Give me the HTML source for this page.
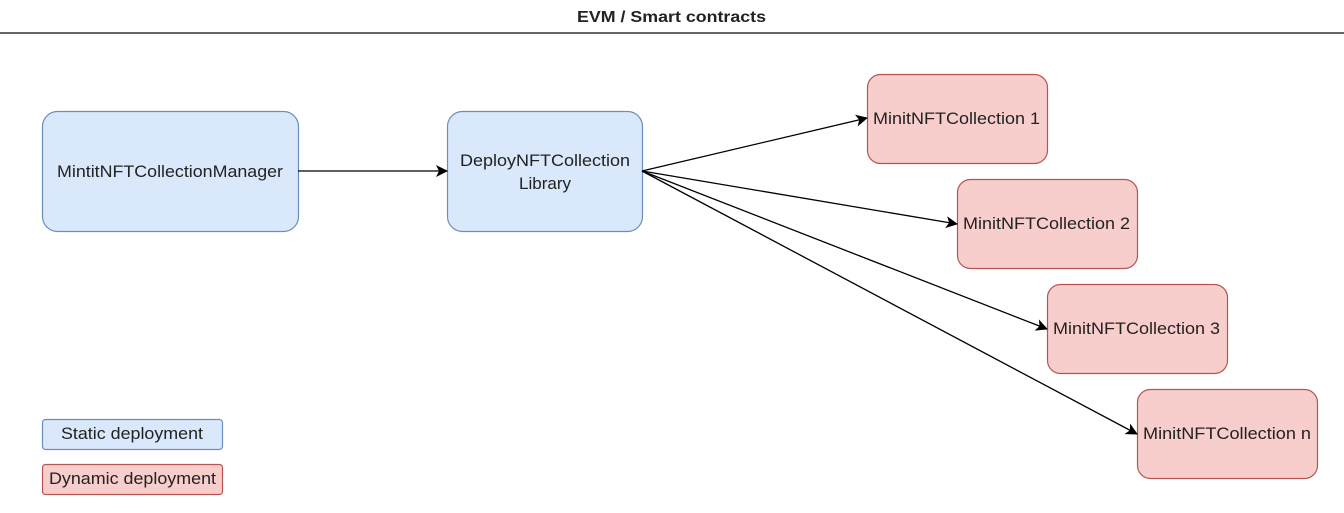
<!DOCTYPE html>
<html><head><style>body{margin:0;background:#fff}svg{display:block}text{font-family:"Liberation Sans",sans-serif;fill:#222}</style></head><body>
<svg width="1344" height="513" xmlns="http://www.w3.org/2000/svg">
<defs><marker id="a" markerWidth="12" markerHeight="12" refX="11" refY="6" orient="auto" markerUnits="userSpaceOnUse"><path d="M0,0 L12,6 L0,12 L3,6 Z" fill="#000"/></marker></defs>
<text x="577" y="22" font-size="16" font-weight="bold" textLength="189" lengthAdjust="spacingAndGlyphs" fill="#222">EVM / Smart contracts</text>
<line x1="0" y1="33" x2="1344" y2="33" stroke="#333" stroke-width="1.5"/>
<g stroke="#6c8ebf" fill="#dae8fc" stroke-width="1.2">
<rect x="42.5" y="111.5" width="256" height="120" rx="15"/>
<rect x="447.5" y="111.5" width="195" height="120" rx="15"/>
<rect x="42.5" y="419.5" width="180" height="30" rx="3"/>
</g>
<g stroke="#b85450" fill="#f8cecc" stroke-width="1.2">
<rect x="867.5" y="74.5" width="180" height="89" rx="13"/>
<rect x="957.5" y="179.5" width="180" height="89" rx="13"/>
<rect x="1047.5" y="284.5" width="180" height="89" rx="13"/>
<rect x="1137.5" y="389.5" width="180" height="89" rx="13"/>
<rect x="42.5" y="464.5" width="180" height="30" rx="3"/>
</g>
<g stroke="#000" stroke-width="1.3" marker-end="url(#a)">
<line x1="298" y1="171" x2="447" y2="171"/>
<line x1="642" y1="171" x2="867" y2="118"/>
<line x1="642" y1="171" x2="957" y2="224"/>
<line x1="642" y1="171" x2="1047" y2="329"/>
<line x1="642" y1="171" x2="1137" y2="434"/>
</g>
<g font-size="17">
<text x="57" y="177" textLength="226" lengthAdjust="spacingAndGlyphs">MintitNFTCollectionManager</text>
<text x="460" y="166" textLength="170" lengthAdjust="spacingAndGlyphs">DeployNFTCollection</text>
<text x="545" y="189" text-anchor="middle">Library</text>
<text x="873" y="124" textLength="167" lengthAdjust="spacingAndGlyphs">MinitNFTCollection 1</text>
<text x="963" y="229" textLength="167" lengthAdjust="spacingAndGlyphs">MinitNFTCollection 2</text>
<text x="1053" y="334" textLength="167" lengthAdjust="spacingAndGlyphs">MinitNFTCollection 3</text>
<text x="1143" y="439" textLength="168" lengthAdjust="spacingAndGlyphs">MinitNFTCollection n</text>
<text x="61" y="439" textLength="142" lengthAdjust="spacingAndGlyphs">Static deployment</text>
<text x="49" y="484" textLength="167" lengthAdjust="spacingAndGlyphs">Dynamic deployment</text>
</g>
</svg>
</body></html>
